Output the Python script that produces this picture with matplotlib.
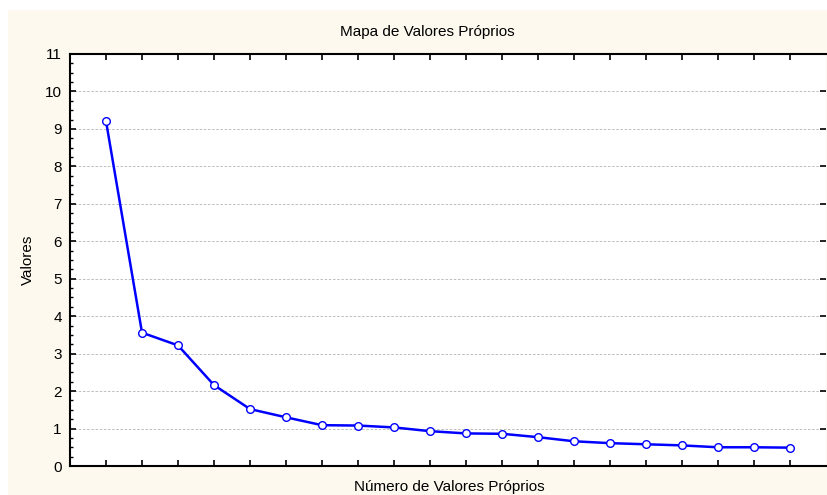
import matplotlib.pyplot as plt
from matplotlib.patches import Rectangle
from matplotlib.ticker import MultipleLocator

plt.rcParams['font.family'] = ['Liberation Sans', 'DejaVu Sans']

# eigenvalues (scree plot)
componentes = list(range(1, 21))
valores = [9.21, 3.56, 3.22, 2.16, 1.52, 1.30, 1.09, 1.08, 1.03, 0.93,
           0.87, 0.86, 0.77, 0.66, 0.61, 0.58, 0.55, 0.50, 0.50, 0.49]

fig = plt.figure(figsize=(8.27, 4.95), dpi=100, facecolor='white')
fig.patches.append(Rectangle((8 / 827, 0), 1, 1 - 10 / 495, transform=fig.transFigure,
                             facecolor='#fdf9ee', edgecolor='none', zorder=-10))

ax = fig.add_axes([70 / 827, 29 / 495, 756 / 827, 412 / 495])
ax.set_facecolor('white')

ax.plot(componentes, valores, color='#0000ff', lw=1.8, marker='o', ms=5.5,
        mfc='white', mec='#0000ff', mew=1, zorder=3)

ax.set_xlim(0, 21)
ax.set_ylim(0, 11)
ax.set_xticks(componentes)
ax.set_xticklabels([])
ax.yaxis.set_major_locator(MultipleLocator(1))
ax.yaxis.set_minor_locator(MultipleLocator(0.25))
ax.grid(axis='y', which='major', color='#b4b4b4', ls=(0, (3, 2)), lw=0.6)

for s in ['left', 'bottom', 'top']:
    ax.spines[s].set_linewidth(1.5)
ax.spines['right'].set_visible(False)

ax.tick_params(axis='x', which='major', direction='in', length=4, width=1.2,
               top=True, bottom=True)
ax.tick_params(axis='y', which='major', direction='in', length=4, width=1.2,
               left=True, right=True, labelsize=11, pad=6)
ax.tick_params(axis='y', which='minor', direction='in', length=2.5, width=1,
               left=True, right=False)

fig.text(427 / 827, 1 - 32 / 495, 'Mapa de Valores Próprios', ha='center', va='center',
         fontsize=11)
fig.text(449 / 827, 1 - 487 / 495, 'Número de Valores Próprios', ha='center', va='center',
         fontsize=11)
fig.text(28 / 827, 1 - 260 / 495, 'Valores', ha='center', va='center', rotation=90,
         fontsize=11)

fig.savefig('out.png', dpi=100, facecolor=fig.get_facecolor())
